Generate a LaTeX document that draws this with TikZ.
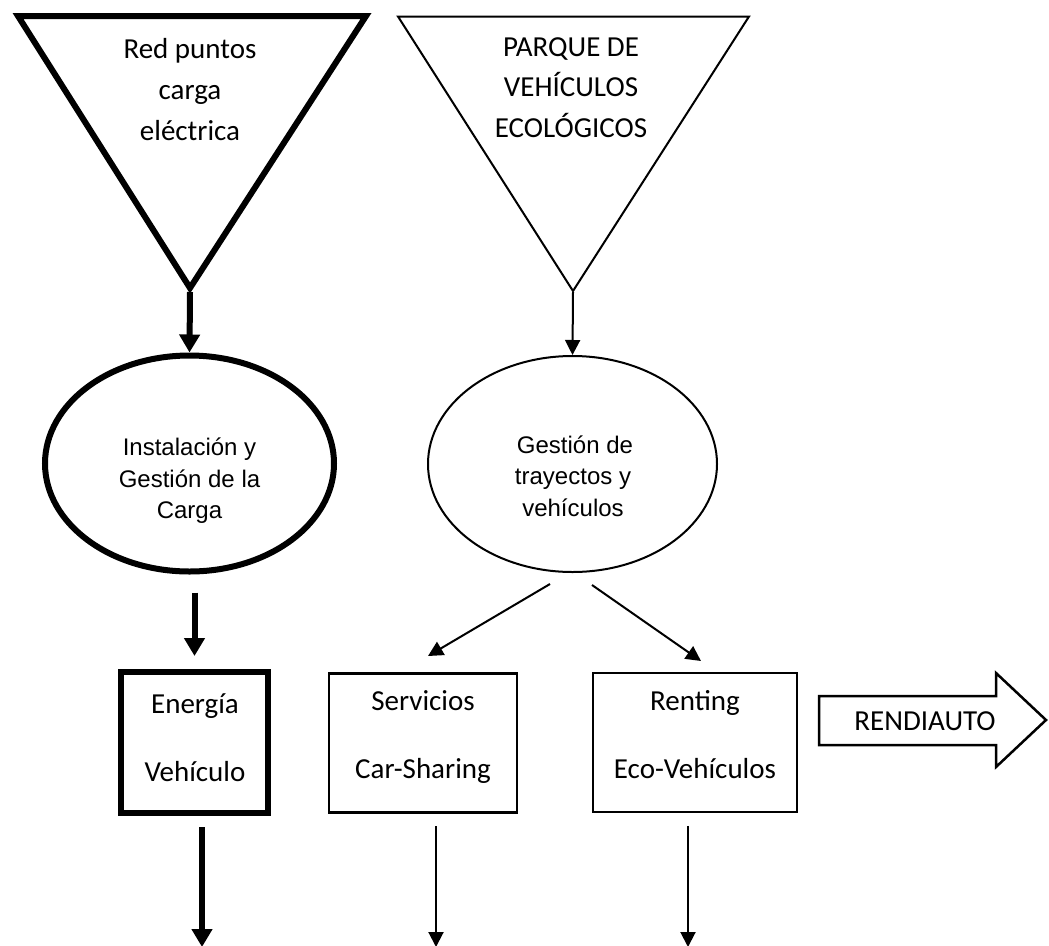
\documentclass[tikz,border=0pt]{standalone}
\usepackage{fontspec}
\setmainfont{Carlito}
\newfontfamily\arialfont{Liberation Sans}
\usetikzlibrary{arrows.meta,shapes.geometric}
\begin{document}
\begin{tikzpicture}[x=1pt,y=-1pt,
  heavy/.style={line width=6pt},
  light/.style={line width=2pt},
  calib/.style={font=\fontsize{29}{35}\selectfont, inner sep=0pt, anchor=base},
  arialtxt/.style={font=\arialfont\fontsize{24}{29}\selectfont, inner sep=0pt, anchor=base},
  bigarrow/.style={line width=6pt, -{Triangle[width=20pt,length=18pt]}},
  smallarrow/.style={line width=2pt, -{Triangle[width=15pt,length=15pt]}},
  ovalbox/.style={ellipse, draw, inner sep=0pt},
  rectbox/.style={rectangle, draw, inner sep=0pt}
]
\useasboundingbox (0,0) rectangle (1049,945);

% triangles
\draw[heavy, line join=miter] (18,16) -- (366,16) -- (190,288) -- cycle;
\coordinate (apexL) at (190,292);
\draw[light, line join=miter] (398,16.5) -- (749,16.5) -- (573,291) -- cycle;
\coordinate (apexR) at (573,292);

\node[calib] (tl1) at (190,58) {Red puntos};
\node[calib] (tl2) at (190,99) {carga};
\node[calib] (tl3) at (190,140) {eléctrica};

\node[calib] (tr1) at (571,56) {PARQUE DE};
\node[calib] (tr2) at (571,96.5) {VEHÍCULOS};
\node[calib] (tr3) at (571,137) {ECOLÓGICOS};

% ellipses
\node[ovalbox, line width=6pt, minimum width=289pt, minimum height=216pt] (ellL) at (189.5,463.5) {};
\node[ovalbox, line width=2pt, minimum width=289pt, minimum height=216pt] (ellR) at (572.5,464) {};

\node[arialtxt] (el1) at (189.5,455) {Instalación y};
\node[arialtxt] (el2) at (189.5,487) {Gestión de la};
\node[arialtxt] (el3) at (189.5,518.5) {Carga};

\node[arialtxt] (er1) at (575,453) {Gestión de};
\node[arialtxt] (er2) at (573,484.5) {trayectos y};
\node[arialtxt] (er3) at (573,516) {vehículos};

\draw[bigarrow] (apexL) -- (ellL.north);
\draw[smallarrow] (apexR) -- (ellR.north);

% boxes
\node[rectbox, line width=6pt, minimum width=147pt, minimum height=141pt] (boxE) at (194.5,742.5) {};
\node[rectbox, line width=2.5pt, minimum width=188pt, minimum height=139pt] (boxS) at (423,742.8) {};
\node[rectbox, line width=2.5pt, minimum width=204pt, minimum height=139pt] (boxR) at (695,742.5) {};

\node[calib] (be1) at (195,713) {Energía};
\node[calib] (be2) at (195,781) {Vehículo};
\node[calib] (bs1) at (423,710) {Servicios};
\node[calib] (bs2) at (423,778) {Car-Sharing};
\node[calib] (br1) at (695,710) {Renting};
\node[calib] (br2) at (695,778) {Eco-Vehículos};

% arrow ellipse -> Energía
\draw[bigarrow, shorten <=18pt] (ellL.south -| boxE.north) -- ([yshift=13pt]boxE.north);

% diagonal arrows
\coordinate (dl1) at (550,584);
\coordinate (dl2) at (428,656);
\coordinate (dr1) at (592,585);
\coordinate (dr2) at (701,661);
\draw[smallarrow] (dl1) -- (dl2);
\draw[smallarrow] (dr1) -- (dr2);

% bottom arrows
\coordinate (outE) at (202,947);
\coordinate (outS) at (436,947);
\coordinate (outR) at (688,947);
\draw[bigarrow, shorten <=11pt] (boxE.south -| outE) -- (outE);
\draw[smallarrow, shorten <=12.5pt] (boxS.south -| outS) -- (outS);
\draw[smallarrow, shorten <=12.5pt] (boxR.south -| outR) -- (outR);

% RENDIAUTO block arrow
\draw[line width=2.5pt, line join=miter] (819,696) -- (996,696) -- (996,673) -- (1046,720) -- (996,767) -- (996,745) -- (819,745) -- cycle;
\node[calib] (rend) at (925,730) {RENDIAUTO};
\end{tikzpicture}
\end{document}
